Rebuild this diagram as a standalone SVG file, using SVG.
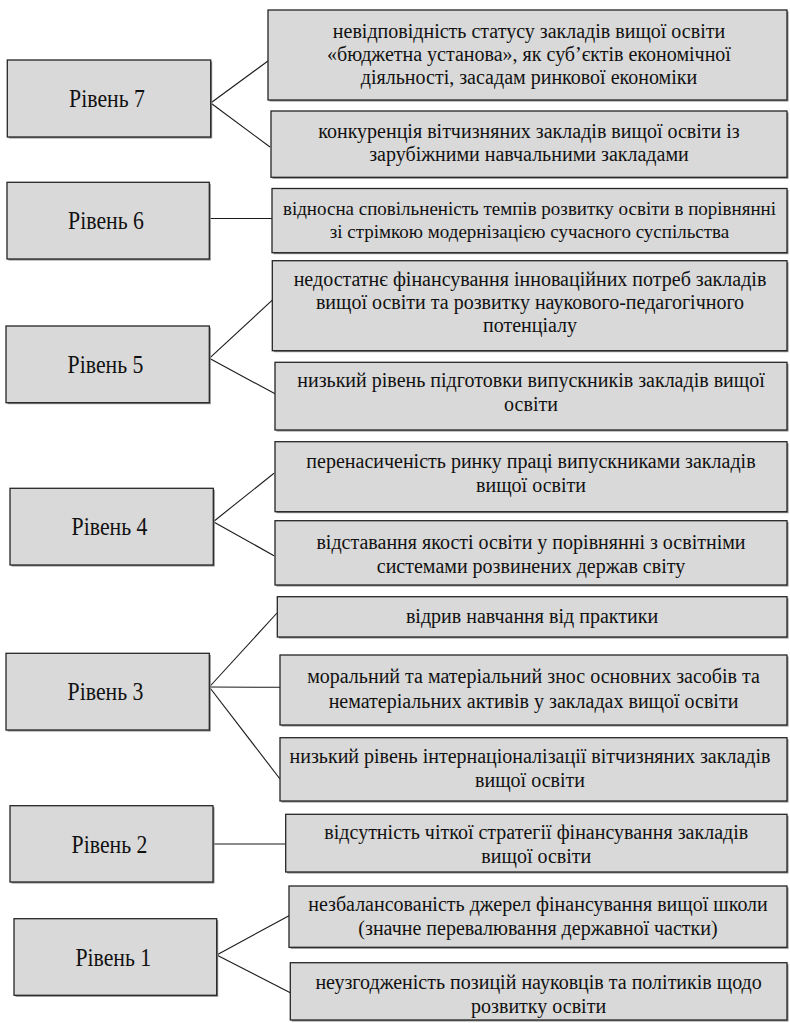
<svg xmlns="http://www.w3.org/2000/svg" width="790" height="1023" viewBox="0 0 790 1023">
<style>
.box{fill:#d9d9d9;stroke:#262626;stroke-width:1.3}
.sh{fill:#8c8c8c}
.lbl{font-family:"Liberation Serif","Times New Roman",serif;font-size:25px;fill:#111;text-anchor:middle}
.txt{font-family:"Liberation Serif","Times New Roman",serif;font-size:20px;fill:#111;text-anchor:middle}
.sm{font-size:19px}
.con line{stroke:#1a1a1a;stroke-width:1.1}
</style>
<rect width="790" height="1023" fill="#fff"/>
<g id="connectors" class="con">
<line x1="210.7" y1="103" x2="270" y2="59.5"/>
<line x1="210.7" y1="103" x2="270" y2="147"/>
<line x1="210" y1="218.5" x2="272" y2="218.5"/>
<line x1="209.3" y1="358.3" x2="275" y2="297.7"/>
<line x1="209.3" y1="358.3" x2="276" y2="394.3"/>
<line x1="213.3" y1="521.7" x2="274" y2="473.3"/>
<line x1="213.3" y1="521.7" x2="274" y2="555.7"/>
<line x1="209.3" y1="687" x2="277" y2="613"/>
<line x1="209.3" y1="687" x2="282.7" y2="687.3"/>
<line x1="209.3" y1="687" x2="280" y2="779"/>
<line x1="213" y1="844" x2="285.7" y2="844"/>
<line x1="216.7" y1="955" x2="289" y2="915.7"/>
<line x1="216.7" y1="955" x2="290.3" y2="992.7"/>
</g>
<g id="level7">
<rect class="sh" x="8.8" y="61.5" width="203.4" height="77"/>
<rect class="box" x="7.3" y="60" width="203.4" height="77"/>
<text class="lbl" transform="matrix(0.87 0 0 1 107 107)">Рівень 7</text>
</g>
<g id="level7a">
<rect class="sh" x="269.5" y="11.5" width="519" height="90"/>
<rect class="box" x="268" y="10" width="519" height="90"/>
<text class="txt"><tspan x="529" y="38">невідповідність статусу закладів вищої освіти</tspan><tspan x="529" y="61">«бюджетна установа», як суб’єктів економічної</tspan><tspan x="529" y="84">діяльності, засадам ринкової економіки</tspan></text>
</g>
<g id="level7b">
<rect class="sh" x="272.5" y="112.5" width="516" height="66.3"/>
<rect class="box" x="271" y="111" width="516" height="66.3"/>
<text class="txt"><tspan x="529" y="138">конкуренція вітчизняних закладів вищої освіти із</tspan><tspan x="529" y="161">зарубіжними навчальними закладами</tspan></text>
</g>
<g id="level6">
<rect class="sh" x="8.5" y="183.8" width="202.3" height="76.7"/>
<rect class="box" x="7" y="182.3" width="202.3" height="76.7"/>
<text class="lbl" transform="matrix(0.87 0 0 1 106 229)">Рівень 6</text>
</g>
<g id="level6a">
<rect class="sh" x="273.5" y="190" width="515" height="64.2"/>
<rect class="box" x="272" y="188.5" width="515" height="64.2"/>
<text class="txt sm"><tspan x="529.5" y="215">відносна сповільненість темпів розвитку освіти в порівнянні</tspan><tspan x="529.5" y="238">зі стрімкою модернізацією сучасного суспільства</tspan></text>
</g>
<g id="level5">
<rect class="sh" x="7.5" y="327.5" width="203.3" height="76.7"/>
<rect class="box" x="6" y="326" width="203.3" height="76.7"/>
<text class="lbl" transform="matrix(0.87 0 0 1 105.5 372.5)">Рівень 5</text>
</g>
<g id="level5a">
<rect class="sh" x="273.8" y="262.2" width="514.7" height="90"/>
<rect class="box" x="272.3" y="260.7" width="514.7" height="90"/>
<text class="txt"><tspan x="530" y="286">недостатнє фінансування інноваційних потреб закладів</tspan><tspan x="530" y="309">вищої освіти та розвитку наукового-педагогічного</tspan><tspan x="530" y="332">потенціалу</tspan></text>
</g>
<g id="level5b">
<rect class="sh" x="276.5" y="363.8" width="512" height="67.7"/>
<rect class="box" x="275" y="362.3" width="512" height="67.7"/>
<text class="txt"><tspan x="531" y="387">низький рівень підготовки випускників закладів вищої</tspan><tspan x="531" y="410.5">освіти</tspan></text>
</g>
<g id="level4">
<rect class="sh" x="11.5" y="489.8" width="203.3" height="76.7"/>
<rect class="box" x="10" y="488.3" width="203.3" height="76.7"/>
<text class="lbl" transform="matrix(0.87 0 0 1 109.5 535)">Рівень 4</text>
</g>
<g id="level4a">
<rect class="sh" x="276.5" y="443.2" width="512" height="70"/>
<rect class="box" x="275" y="441.7" width="512" height="70"/>
<text class="txt"><tspan x="531" y="468">перенасиченість ринку праці випускниками закладів</tspan><tspan x="531" y="491.5">вищої освіти</tspan></text>
</g>
<g id="level4b">
<rect class="sh" x="276.5" y="522.2" width="512" height="64.3"/>
<rect class="box" x="275" y="520.7" width="512" height="64.3"/>
<text class="txt"><tspan x="531" y="548.5">відставання якості освіти у порівнянні з освітніми</tspan><tspan x="531" y="572.5">системами розвинених держав світу</tspan></text>
</g>
<g id="level3">
<rect class="sh" x="7.5" y="654.8" width="203.3" height="76.7"/>
<rect class="box" x="6" y="653.3" width="203.3" height="76.7"/>
<text class="lbl" transform="matrix(0.87 0 0 1 105.5 700)">Рівень 3</text>
</g>
<g id="level3a">
<rect class="sh" x="278.8" y="598.2" width="509.7" height="40.3"/>
<rect class="box" x="277.3" y="596.7" width="509.7" height="40.3"/>
<text class="txt" x="532" y="623">відрив навчання від практики</text>
</g>
<g id="level3b">
<rect class="sh" x="281.5" y="656.5" width="507" height="70"/>
<rect class="box" x="280" y="655" width="507" height="70"/>
<text class="txt"><tspan x="533.5" y="683">моральний та матеріальний знос основних засобів та</tspan><tspan x="533.5" y="707.5">нематеріальних активів у закладах вищої освіти</tspan></text>
</g>
<g id="level3c">
<rect class="sh" x="281.5" y="739.2" width="507" height="63.3"/>
<rect class="box" x="280" y="737.7" width="507" height="63.3"/>
<text class="txt"><tspan x="530" y="763">низький рівень інтернаціоналізації вітчизняних закладів</tspan><tspan x="530" y="787">вищої освіти</tspan></text>
</g>
<g id="level2">
<rect class="sh" x="11.5" y="807.2" width="203" height="76.3"/>
<rect class="box" x="10" y="805.7" width="203" height="76.3"/>
<text class="lbl" transform="matrix(0.87 0 0 1 109.5 852.5)">Рівень 2</text>
</g>
<g id="level2a">
<rect class="sh" x="287.2" y="815.8" width="501.3" height="57.7"/>
<rect class="box" x="285.7" y="814.3" width="501.3" height="57.7"/>
<text class="txt"><tspan x="536.3" y="839">відсутність чіткої стратегії фінансування закладів</tspan><tspan x="536.3" y="863">вищої освіти</tspan></text>
</g>
<g id="level1">
<rect class="sh" x="15.5" y="920.2" width="202.7" height="76.6"/>
<rect class="box" x="14" y="918.7" width="202.7" height="76.6"/>
<text class="lbl" transform="matrix(0.87 0 0 1 113.3 965.5)">Рівень 1</text>
</g>
<g id="level1a">
<rect class="sh" x="290.5" y="887.5" width="498" height="61.3"/>
<rect class="box" x="289" y="886" width="498" height="61.3"/>
<text class="txt"><tspan x="538" y="911">незбалансованість джерел фінансування вищої школи</tspan><tspan x="538" y="934.5">(значне перевалювання державної частки)</tspan></text>
</g>
<g id="level1b">
<rect class="sh" x="291.8" y="964.2" width="496.7" height="57.3"/>
<rect class="box" x="290.3" y="962.7" width="496.7" height="57.3"/>
<text class="txt"><tspan x="538.6" y="989">неузгодженість позицій науковців та політиків щодо</tspan><tspan x="538.6" y="1012.5">розвитку освіти</tspan></text>
</g>
</svg>
